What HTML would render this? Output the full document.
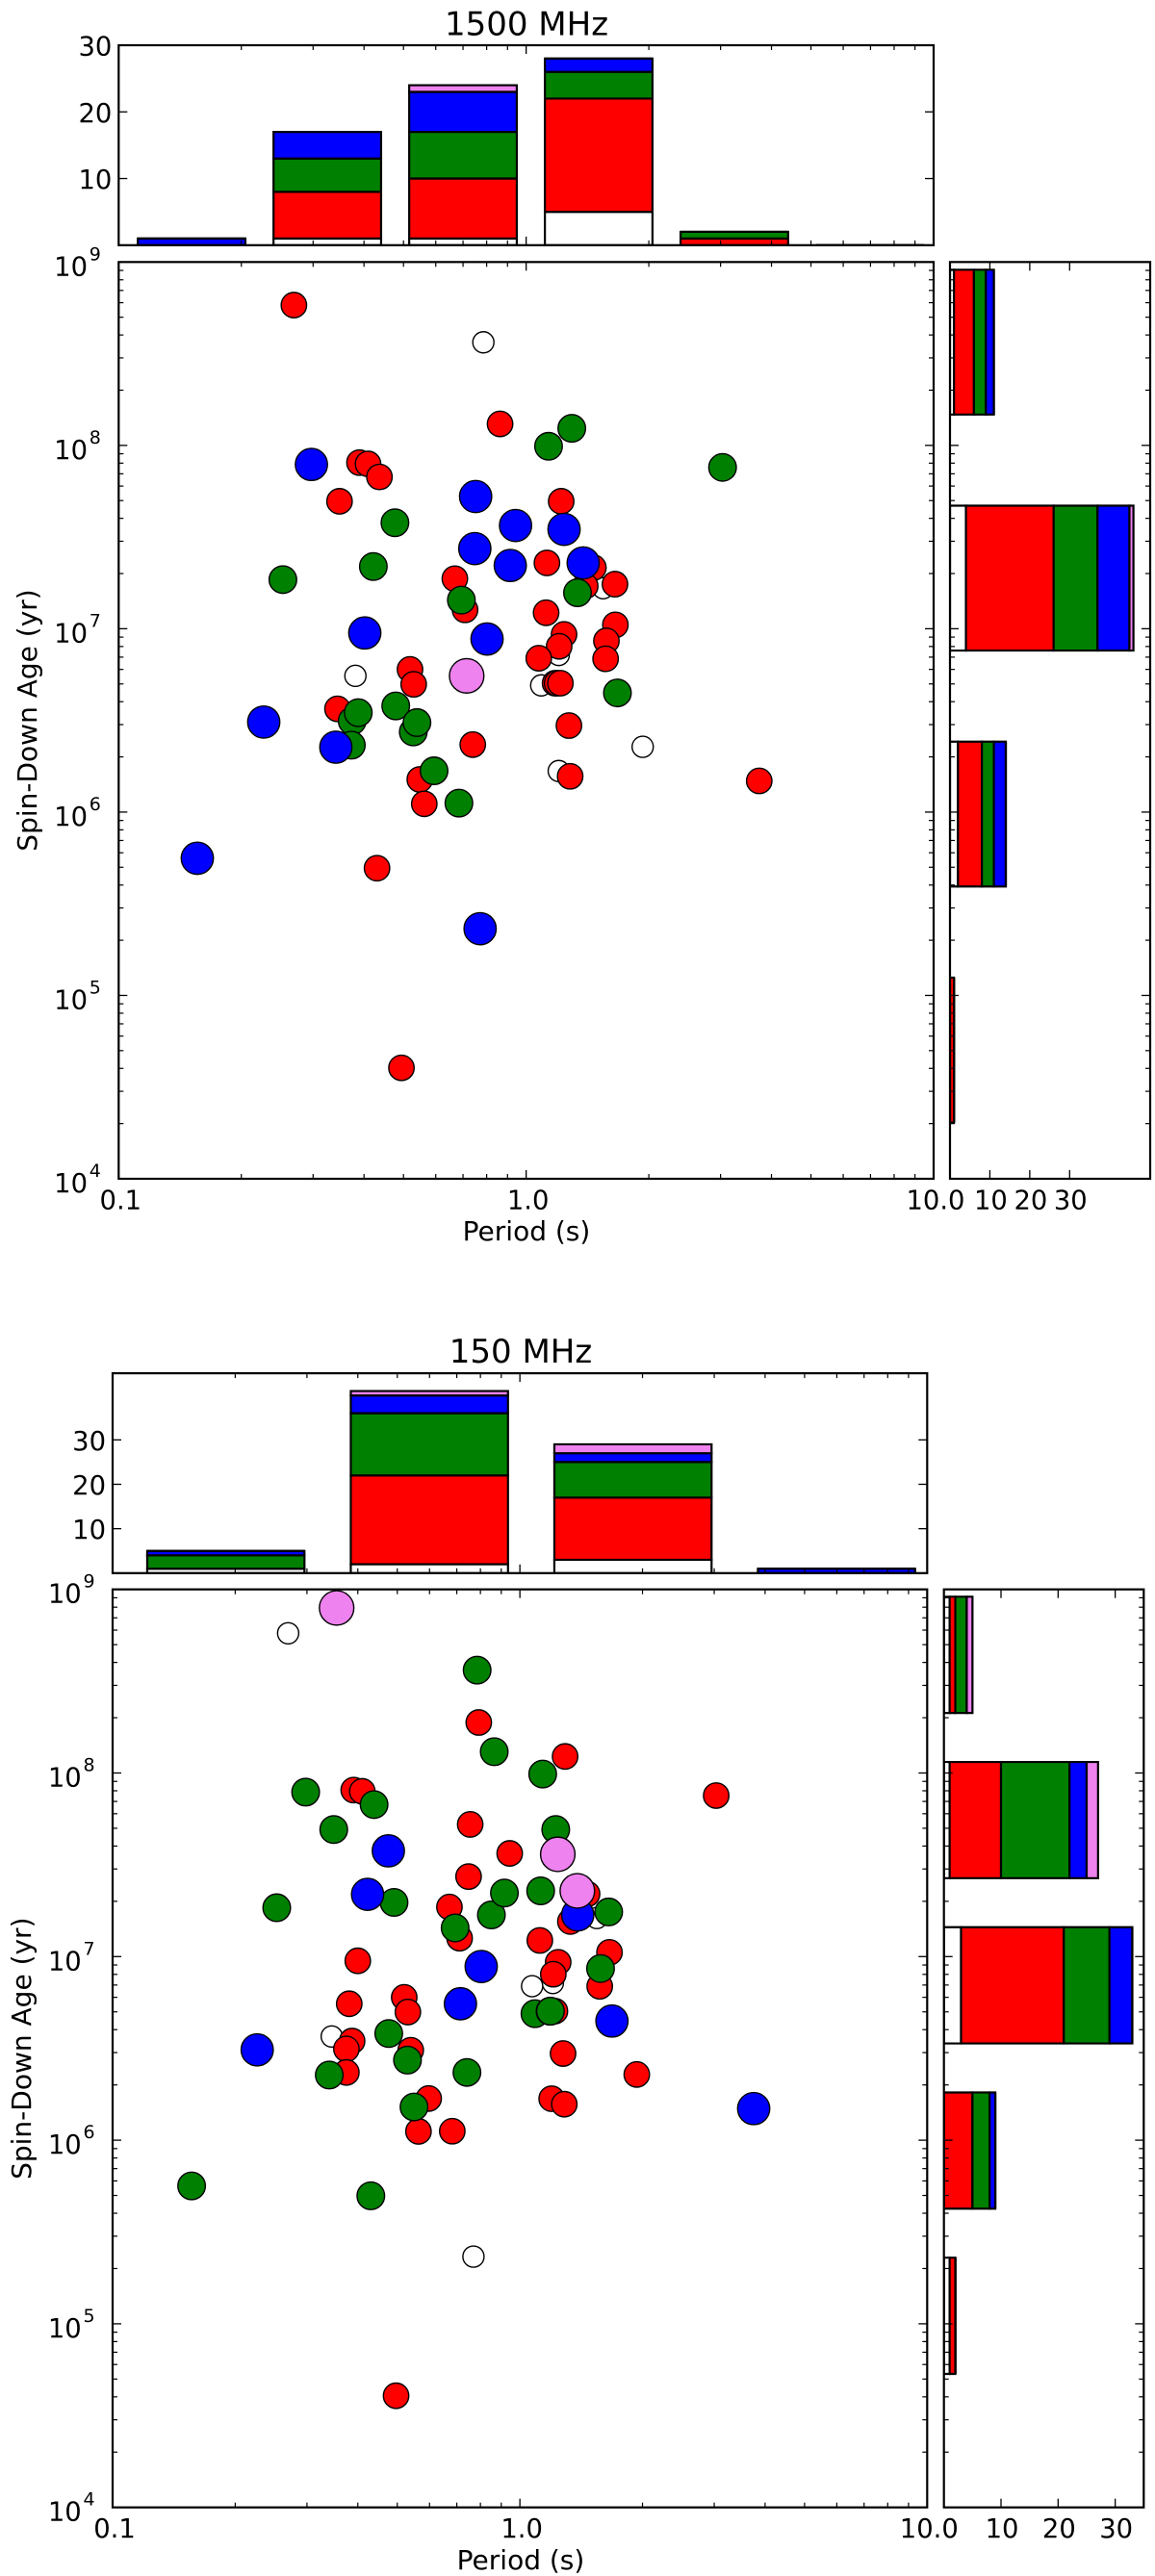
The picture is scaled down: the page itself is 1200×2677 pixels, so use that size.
<!DOCTYPE html>
<html>
<head>
<meta charset="utf-8">
<title>Spin-Down Age vs Period</title>
<style>
html,body{margin:0;padding:0;background:#fff;}
svg{display:block;}
text{font-family:"DejaVu Sans","Liberation Sans",sans-serif;fill:#000;}
</style>
</head>
<body>
<svg id="figure" xmlns="http://www.w3.org/2000/svg" width="1200" height="2677" viewBox="0 0 1200 2677">
<rect x="0" y="0" width="1200" height="2677" fill="#fff"/>
<text x="547" y="36.6" font-size="34" text-anchor="middle">1500 MHz</text>
<text x="547" y="1289" font-size="28" text-anchor="middle">Period (s)</text>
<text transform="translate(38,748.5) rotate(-90)" font-size="28" text-anchor="middle">Spin-Down Age (yr)</text>
<text x="541" y="1416" font-size="34" text-anchor="middle">150 MHz</text>
<text x="541" y="2670" font-size="28" text-anchor="middle">Period (s)</text>
<text transform="translate(32,2128.7) rotate(-90)" font-size="28" text-anchor="middle">Spin-Down Age (yr)</text>
</svg>
<script>
// ---- 1500 MHz scatter data (log10 of period in s, log10 of age in yr) ----
const p1WhitePeriod = [-0.105,0.189,0.080,0.037,-0.419,0.286,0.080];
const p1WhiteAge = [8.562,7.221,6.857,6.691,6.743,6.356,6.224];
const p1RedPeriod = [-0.570,-0.064,-0.409,-0.388,-0.360,-0.458,0.086,0.051,0.165,-0.175,-0.150,0.145,0.218,0.049,0.093,0.081,0.031,0.219,0.197,0.195,0.071,0.076,0.084,-0.285,-0.276,-0.131,0.105,0.108,-0.261,-0.250,-0.463,-0.366,-0.306,0.572];
const p1RedAge = [8.765,8.117,7.906,7.899,7.828,7.695,7.695,7.359,7.333,7.273,7.103,7.233,7.243,7.087,6.969,6.904,6.839,7.021,6.934,6.836,6.703,6.703,6.703,6.778,6.697,6.368,6.472,6.195,6.178,6.045,6.563,5.694,4.605,6.170];
const p1GreenPeriod = [-0.597,-0.375,-0.322,-0.320,-0.427,-0.412,-0.429,-0.277,-0.268,-0.226,-0.165,-0.159,0.055,0.112,0.126,0.224,0.482];
const p1GreenAge = [7.268,7.339,7.578,6.579,6.497,6.542,6.365,6.437,6.488,6.225,6.049,7.156,7.995,8.093,7.196,6.650,7.880];
const p1BluePeriod = [-0.807,-0.644,-0.467,-0.527,-0.396,-0.124,-0.126,-0.113,-0.096,-0.039,-0.026,0.093,0.140];
const p1BlueAge = [5.748,6.491,6.354,7.896,6.977,7.721,7.437,5.364,6.944,7.345,7.563,7.542,7.359];
const p1VioletPeriod = [-0.146];
const p1VioletAge = [6.743];

// ---- 1500 MHz histogram counts ----
const p1TopWhite = [0,1,1,5,0,0];
const p1TopRed = [0,7,9,17,1,0];
const p1TopGreen = [0,5,7,4,1,0];
const p1TopBlue = [1,4,6,2,0,0];
const p1TopViolet = [0,0,1,0,0,0];
const p1SideWhite = [1,4,2,0];
const p1SideRed = [5,22,6,1];
const p1SideGreen = [3,11,3,0];
const p1SideBlue = [2,8,3,0];
const p1SideViolet = [0,1,0,0];

// ---- 150 MHz scatter data ----
const p2WhitePeriod = [-0.569,0.189,0.081,0.030,-0.462,-0.114];
const p2WhiteAge = [8.761,7.210,6.856,6.839,6.565,5.366];
const p2RedPeriod = [-0.408,-0.387,-0.101,-0.122,-0.126,-0.173,-0.148,-0.398,-0.419,-0.284,-0.275,-0.412,-0.426,-0.426,-0.268,-0.224,-0.249,-0.166,-0.304,-0.025,0.111,0.482,0.165,0.124,0.049,0.094,0.082,0.220,0.196,0.086,0.106,0.287,0.078,0.109];
const p2RedAge = [7.907,7.900,8.275,7.720,7.436,7.270,7.100,6.977,6.743,6.778,6.698,6.540,6.497,6.369,6.490,6.227,6.048,6.049,4.608,7.562,8.090,7.877,7.341,7.191,7.088,6.969,6.904,7.023,6.838,6.703,6.472,6.358,6.226,6.196];
const p2GreenPeriod = [-0.806,-0.597,-0.526,-0.457,-0.468,-0.366,-0.358,-0.322,-0.309,-0.276,-0.260,-0.159,-0.130,-0.105,-0.070,-0.063,-0.038,0.037,0.051,0.056,0.074,0.075,0.088,0.198,0.218];
const p2GreenAge = [5.751,7.266,7.896,7.692,6.355,5.697,7.828,6.581,7.295,6.436,6.181,7.156,6.369,8.560,7.227,8.116,7.346,6.689,7.358,7.994,6.702,6.703,7.692,6.935,7.243];
const p2BluePeriod = [-0.645,-0.323,-0.374,-0.146,-0.095,0.142,0.226,0.574];
const p2BlueAge = [6.492,7.576,7.339,6.743,6.946,7.227,6.649,6.172];
const p2VioletPeriod = [-0.450,0.093,0.141];
const p2VioletAge = [8.899,7.557,7.358];

// ---- 150 MHz histogram counts ----
const p2TopWhite = [1,2,3,0];
const p2TopRed = [0,20,14,0];
const p2TopGreen = [3,14,8,0];
const p2TopBlue = [1,4,2,1];
const p2TopViolet = [0,1,2,0];
const p2SideWhite = [1,1,3,0,1];
const p2SideRed = [1,9,18,5,1];
const p2SideGreen = [2,12,8,3,0];
const p2SideBlue = [0,3,4,1,0];
const p2SideViolet = [1,2,0,0,0];

// ---- tick labels ----
const periodTickLabels = ['0.1','1.0','10.0'];
const ageTickExponents = ['4','5','6','7','8','9'];
const countTicks = [10,20,30];

const NS = 'http://www.w3.org/2000/svg';
const svg = document.getElementById('figure');
const colors = {white:'#ffffff', red:'#ff0000', green:'#008000', blue:'#0000ff', violet:'#ee82ee'};
const radii = {white:11, red:13.2, green:14.3, blue:16.7, violet:17.9};
const order = ['white','red','green','blue','violet'];

function make(tag, attrs, parent) {
  const el = document.createElementNS(NS, tag);
  for (const k in attrs) el.setAttribute(k, attrs[k]);
  parent.appendChild(el);
  return el;
}
function line(parent, x1, y1, x2, y2, width) {
  const t = make('line', {x1:x1, y1:y1, x2:x2, y2:y2, stroke:'#000', 'stroke-width':width}, parent);
  
  
  return t;
}
function label(parent, str, x, y, size, anchor) {
  const t = make('text', {x:x, y:y, 'font-size':size, 'text-anchor':anchor}, parent);
  t.textContent = str;
  
  
  return t;
}
function frame(parent, x0, y0, x1, y1) {
  const f = make('rect', {x:x0, y:y0, width:x1-x0, height:y1-y0, fill:'none', stroke:'#000', 'stroke-width':2.2}, parent);
  
  
}
function clip(id, x0, y0, x1, y1) {
  const c = make('clipPath', {id:id}, svg);
  make('rect', {x:x0, y:y0, width:x1-x0, height:y1-y0}, c);
  return 'url(#' + id + ')';
}
function logXTicks(g, xf, y0, y1) {
  for (let d = -1; d <= 1; d++) {
    line(g, xf(d), y0, xf(d), y0 + 9, 1.3);
    line(g, xf(d), y1, xf(d), y1 - 9, 1.3);
    if (d === 1) break;
    for (let m = 2; m <= 9; m++) {
      const v = d + Math.log10(m);
      line(g, xf(v), y0, xf(v), y0 + 5, 1.2);
      line(g, xf(v), y1, xf(v), y1 - 5, 1.2);
    }
  }
}
function logYTicks(g, yf, x0, x1) {
  for (let d = 4; d <= 9; d++) {
    line(g, x0, yf(d), x0 + 9, yf(d), 1.3);
    line(g, x1, yf(d), x1 - 9, yf(d), 1.3);
    if (d === 9) break;
    for (let m = 2; m <= 9; m++) {
      const v = d + Math.log10(m);
      line(g, x0, yf(v), x0 + 5, yf(v), 1.2);
      line(g, x1, yf(v), x1 - 5, yf(v), 1.2);
    }
  }
}

function drawPanel(cfg) {
  const g = make('g', {}, svg);
  
  
  const L = cfg.left, R = cfg.right, T = cfg.top, B = cfg.bottom;
  const xLog = v => L + (v + 1) / 2 * (R - L);
  const yLog = v => B - (v - 4) / 5 * (B - T);
  const yCount = n => cfg.histBottom - n / cfg.topMax * (cfg.histBottom - cfg.histTop);
  const xCount = n => cfg.sideLeft + n / cfg.sideMax * (cfg.sideRight - cfg.sideLeft);

  // top histogram
  const topG = make('g', {'clip-path': clip(cfg.name + '-top-clip', L, cfg.histTop, R, cfg.histBottom)}, g);
  
  
  cfg.topCounts[0].forEach(function (_, i) {
    let base = 0;
    const left = xLog(cfg.topStart + i * cfg.topStep);
    const right = xLog(cfg.topStart + i * cfg.topStep + cfg.topWidth);
    order.forEach(function (key, s) {
      const val = cfg.topCounts[s][i];
      const y0 = yCount(base), y1 = yCount(base + val);
      const bar = make('path', {d:'M' + left + ' ' + y0 + 'H' + right + 'V' + y1 + 'H' + left + 'Z', fill:colors[key], stroke:'#000', 'stroke-width':2.2}, topG);
      
      
      base += val;
    });
  });
  logXTicks(g, xLog, cfg.histTop, cfg.histBottom);
  countTicks.forEach(function (n, i) {
    line(g, L, yCount(n), L + 9, yCount(n), 1.3);
    line(g, R, yCount(n), R - 9, yCount(n), 1.3);
    label(g, String(countTicks[i]), L - 7, yCount(n) + 10.5, 27.4, 'end');
  });
  frame(g, L, cfg.histTop, R, cfg.histBottom);

  // side histogram
  const sideG = make('g', {'clip-path': clip(cfg.name + '-side-clip', cfg.sideLeft, T, cfg.sideRight, B)}, g);
  
  
  cfg.sideCounts[0].forEach(function (_, i) {
    let base = 0;
    const top = yLog(cfg.sideStart - i * cfg.sideStep);
    const bot = yLog(cfg.sideStart - i * cfg.sideStep - cfg.sideHeight);
    order.forEach(function (key, s) {
      const val = cfg.sideCounts[s][i];
      const x0 = xCount(base), x1 = xCount(base + val);
      const bar = make('path', {d:'M' + x0 + ' ' + top + 'H' + x1 + 'V' + bot + 'H' + x0 + 'Z', fill:colors[key], stroke:'#000', 'stroke-width':2.2}, sideG);
      
      
      base += val;
    });
  });
  logYTicks(g, yLog, cfg.sideLeft, cfg.sideRight);
  countTicks.forEach(function (n, i) {
    line(g, xCount(n), T, xCount(n), T + 9, 1.3);
    line(g, xCount(n), B, xCount(n), B - 9, 1.3);
    label(g, String(countTicks[i]), xCount(n) + 1, B + 31.5, 27.4, 'middle');
  });
  frame(g, cfg.sideLeft, T, cfg.sideRight, B);

  // scatter
  const dotG = make('g', {'clip-path': clip(cfg.name + '-main-clip', L, T, R, B)}, g);
  
  
  order.forEach(function (key, s) {
    cfg.periods[s].forEach(function (p, i) {
      const dot = make('circle', {cx:xLog(p), cy:yLog(cfg.ages[s][i]), r:radii[key], fill:colors[key], stroke:'#000', 'stroke-width':1.4}, dotG);
      
      
    });
  });
  logXTicks(g, xLog, T, B);
  logYTicks(g, yLog, L, R);
  frame(g, L, T, R, B);
  periodTickLabels.forEach(function (s, i) {
    label(g, s, xLog(i - 1) + 2, B + 31.5, 27.4, 'middle');
  });
  ageTickExponents.forEach(function (s, i) {
    const y = yLog(i + 4);
    label(g, '10', L - 32.3, y + 14, 27.4, 'end');
    label(g, s, L - 30.5, y - 2, 19, 'start');
  });
}

drawPanel({
  name:'mhz1500', left:123.3, right:970, top:272.3, bottom:1225,
  histTop:47, histBottom:254.8, topMax:30,
  sideLeft:987, sideRight:1195, sideMax:50.2,
  topStart:-0.953, topStep:0.333, topWidth:0.264,
  sideStart:8.958, sideStep:1.287, sideHeight:0.79,
  topCounts:[p1TopWhite,p1TopRed,p1TopGreen,p1TopBlue,p1TopViolet],
  sideCounts:[p1SideWhite,p1SideRed,p1SideGreen,p1SideBlue,p1SideViolet],
  periods:[p1WhitePeriod,p1RedPeriod,p1GreenPeriod,p1BluePeriod,p1VioletPeriod],
  ages:[p1WhiteAge,p1RedAge,p1GreenAge,p1BlueAge,p1VioletAge]
});
drawPanel({
  name:'mhz150', left:117, right:963.3, top:1651.7, bottom:2605.7,
  histTop:1427.1, histBottom:1634.8, topMax:45,
  sideLeft:980.7, sideRight:1188.3, sideMax:35,
  topStart:-0.915, topStep:0.4998, topWidth:0.386,
  sideStart:8.960, sideStep:0.900, sideHeight:0.633,
  topCounts:[p2TopWhite,p2TopRed,p2TopGreen,p2TopBlue,p2TopViolet],
  sideCounts:[p2SideWhite,p2SideRed,p2SideGreen,p2SideBlue,p2SideViolet],
  periods:[p2WhitePeriod,p2RedPeriod,p2GreenPeriod,p2BluePeriod,p2VioletPeriod],
  ages:[p2WhiteAge,p2RedAge,p2GreenAge,p2BlueAge,p2VioletAge]
});
</script>
</body>
</html>
